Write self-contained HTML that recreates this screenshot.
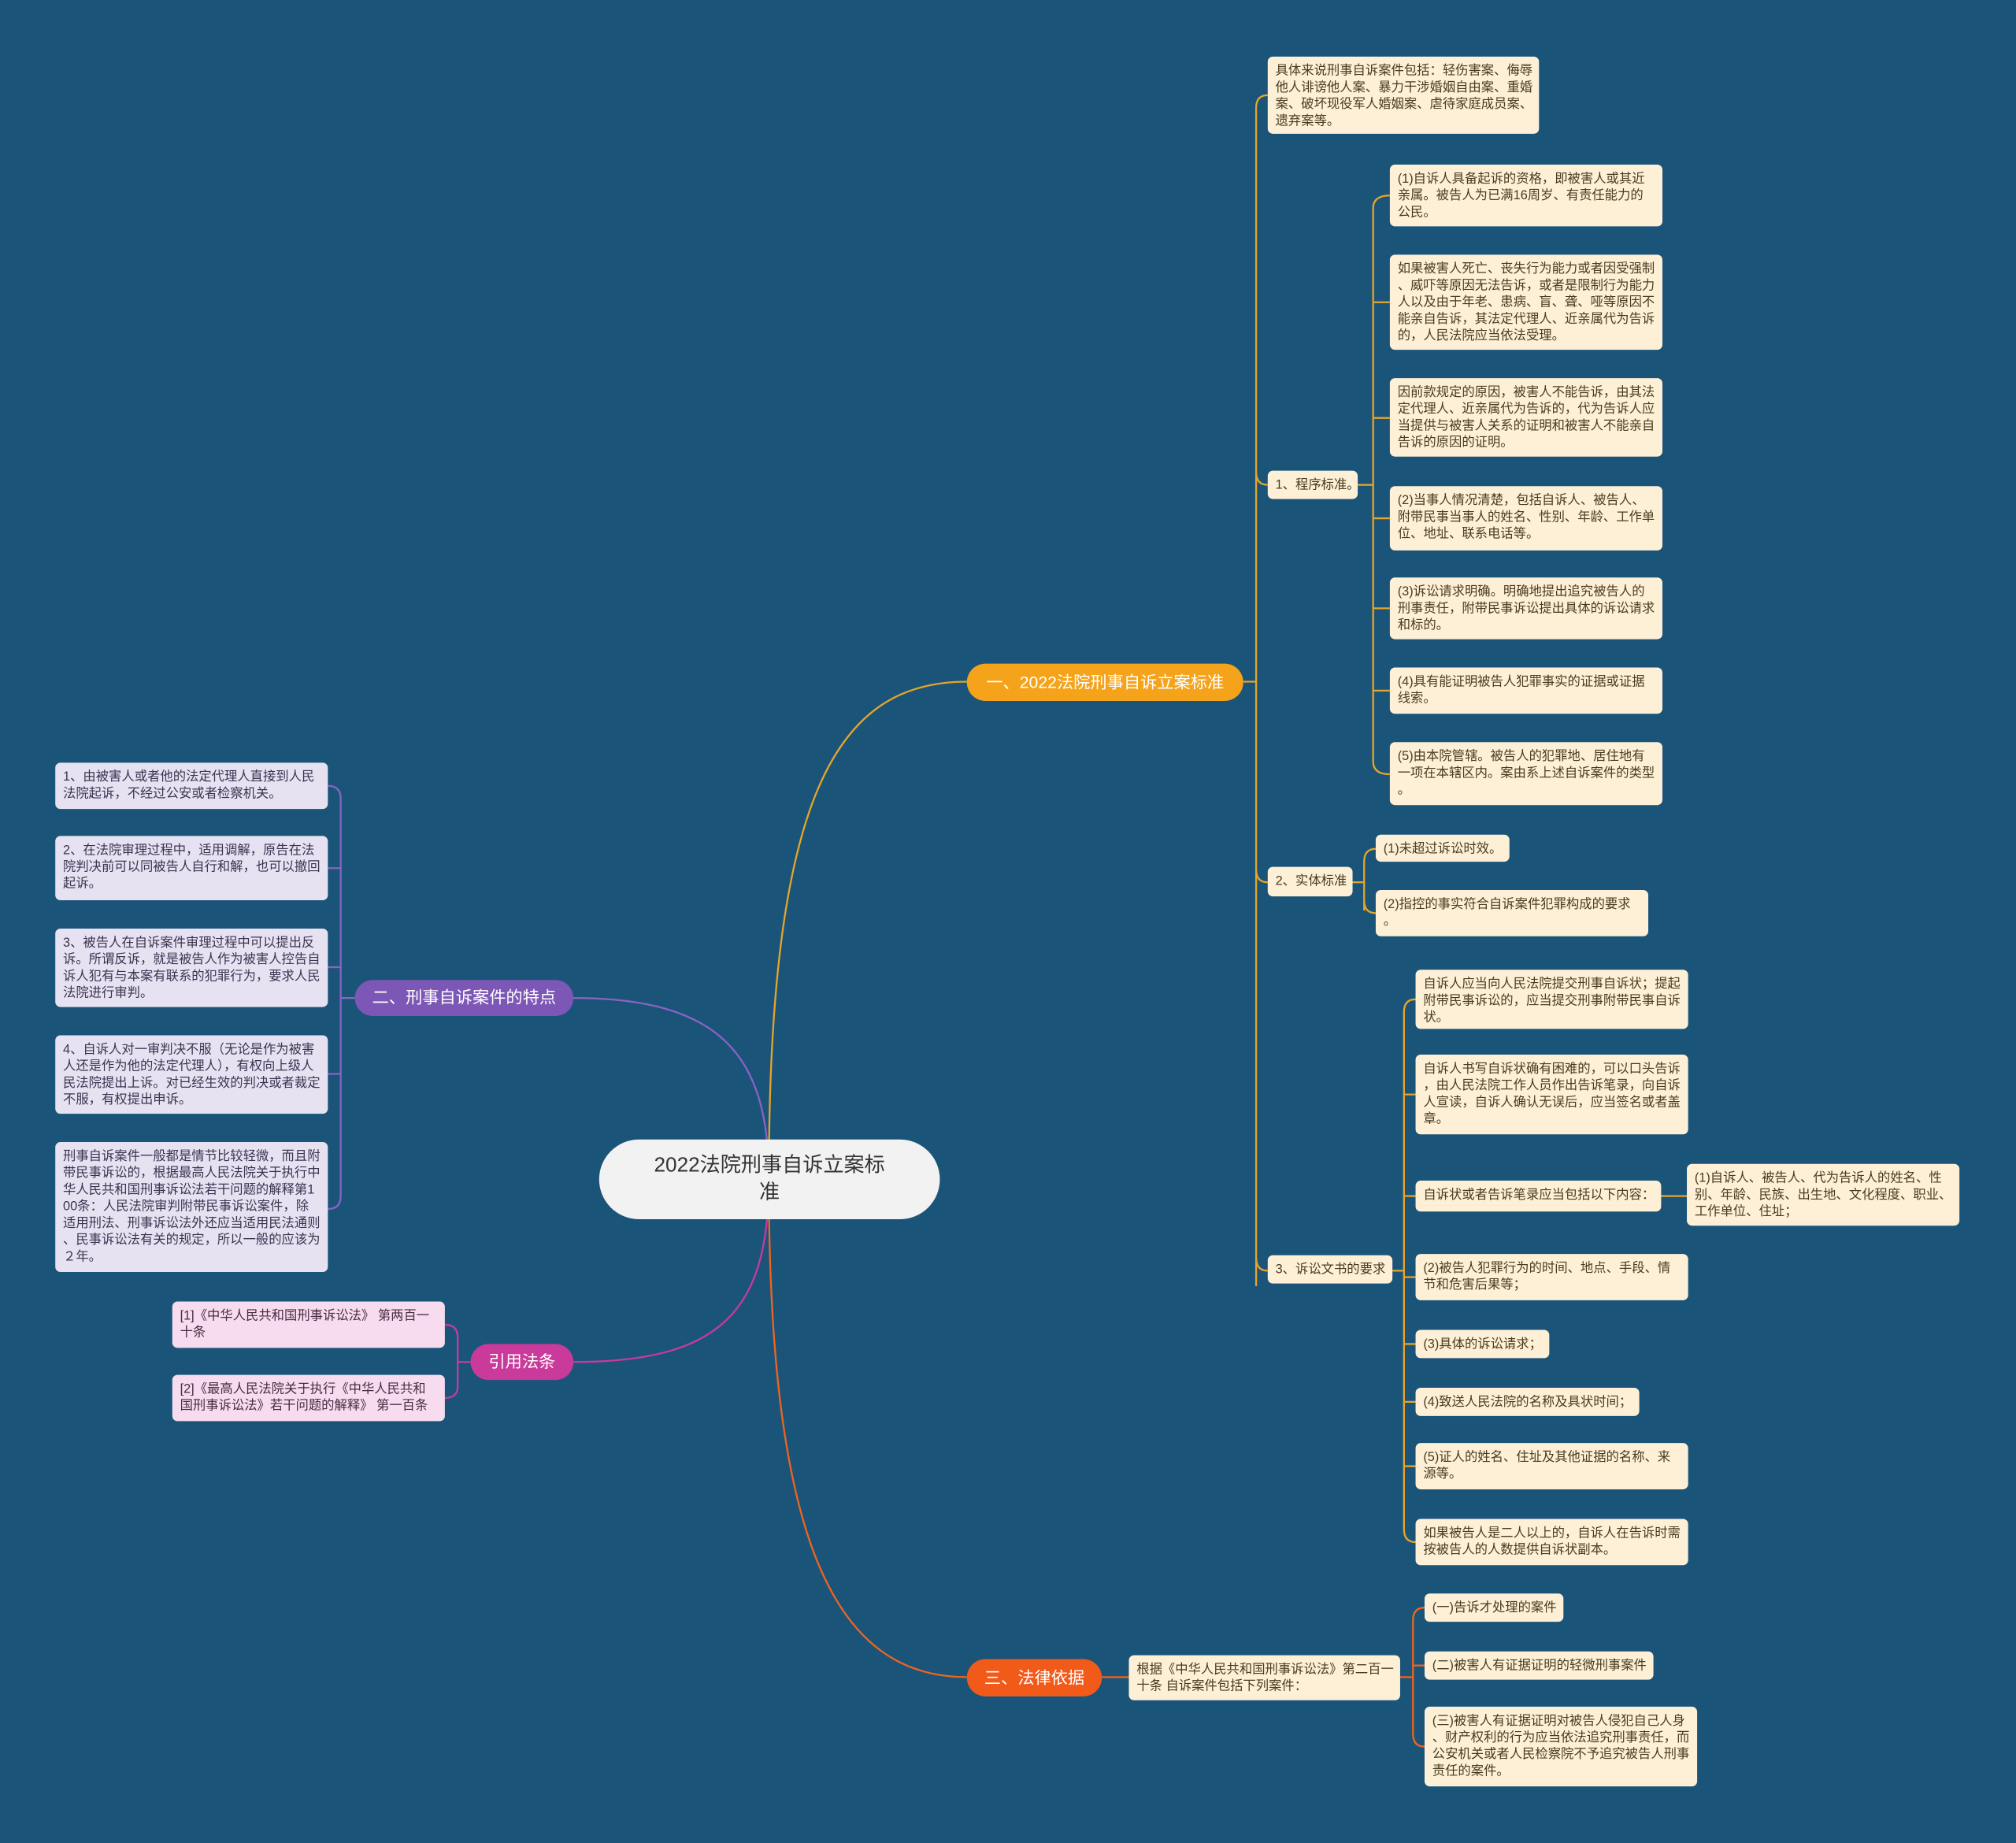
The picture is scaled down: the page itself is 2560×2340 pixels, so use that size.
<!DOCTYPE html>
<html><head><meta charset="utf-8">
<style>
html,body{margin:0;padding:0;background:#1b5479;}
body{width:2560px;height:2340px;overflow:hidden;position:relative;}
#s{position:absolute;left:0;top:0;width:1568px;height:1433px;transform:scale(1.63265,1.63294);transform-origin:0 0;font-family:"Liberation Sans","Noto Sans CJK SC",sans-serif;}
.b{position:absolute;box-sizing:border-box;background:#fdf0d6;color:#4a3a20;font-size:10px;line-height:13px;padding:5px 6px 3px 6px;border-radius:4px;white-space:nowrap;}
.p{background:#e7e2f2;color:#3b3350;}
.k{background:#f6dcee;color:#4a2a40;}
.m{position:absolute;box-sizing:border-box;border-radius:15px;color:#fff;font-size:13px;text-align:center;line-height:29px;white-space:nowrap;}
svg{position:absolute;left:0;top:0;}
</style></head><body><div id="s">
<svg width="1568" height="1433" fill="none" stroke-width="1.4">
<g stroke="#e6a52a">
<path d="M598,917 C598,620 650,530 752,530"/>
<path d="M967,530 H977 M977,84 V1000"/>
<path d="M977,84 Q977,74 986,74 M977,367 Q977,377 986,377 M977,676 Q977,686 986,686 M977,978 Q977,988 986,988"/>
<path d="M1056,377 H1068 M1068,162 V592 M1068,162 Q1068,152 1081,152 M1068,235 H1081 M1068,325 H1081 M1068,403 H1081 M1068,473 H1081 M1068,537 H1081 M1068,592 Q1068,602 1081,602"/>
<path d="M1052,686 H1061 M1061,670 V708 M1061,670 Q1061,660 1070,660 M1061,700 Q1061,710 1070,710"/>
<path d="M1083,988 H1092 M1092,787 V1189 M1092,787 Q1092,777 1101,777 M1092,851 H1101 M1092,930 H1101 M1092,993 H1101 M1092,1045 H1101 M1092,1090 H1101 M1092,1140 H1101 M1092,1189 Q1092,1199 1101,1199"/>
<path d="M1292,930 H1312"/>
</g>
<g stroke="#f0641e">
<path d="M598,917 C598,1200 650,1304 752,1304"/>
<path d="M857,1304 H878 M1089,1304 H1099 M1099,1260 V1348 M1099,1260 Q1099,1250 1108,1250 M1099,1295 H1108 M1099,1348 Q1099,1358 1108,1358"/>
</g>
<g stroke="#8a63c4">
<path d="M598,917 C598,820 560,776 446,776"/>
<path d="M276,776 H265 M265,621 V930 M265,621 Q265,611 255,611 M265,675 H255 M265,752 H255 M265,835 H255 M265,930 Q265,940 255,940"/>
</g>
<g stroke="#c93a9a">
<path d="M598,917 C598,1020 560,1059 446,1059"/>
<path d="M366,1059 H356 M356,1040 V1078 M356,1040 Q356,1030 346,1030 M356,1078 Q356,1087 346,1087"/>
</g>
</svg>

<div style="position:absolute;left:466px;top:886px;width:265px;height:62px;border-radius:31px;background:#f2f2f2;color:#333;font-size:16px;line-height:21px;text-align:center;padding-top:10px;box-sizing:border-box;">2022法院刑事自诉立案标<br>准</div>

<div class="m" style="left:752px;top:516px;width:215px;height:29px;background:#f5a31a;">一、2022法院刑事自诉立案标准</div>
<div class="m" style="left:276px;top:762px;width:170px;height:28px;background:#7d57b6;line-height:28px;">二、刑事自诉案件的特点</div>
<div class="m" style="left:366px;top:1045px;width:80px;height:28px;background:#c93a9a;line-height:28px;">引用法条</div>
<div class="m" style="left:752px;top:1290px;width:105px;height:29px;background:#f25a1a;">三、法律依据</div>

<div class="b" style="left:986px;top:44px;width:211px;height:60px;">具体来说刑事自诉案件包括：轻伤害案、侮辱<br>他人诽谤他人案、暴力干涉婚姻自由案、重婚<br>案、破坏现役军人婚姻案、虐待家庭成员案、<br>遗弃案等。</div>
<div class="b" style="left:986px;top:366px;width:70px;height:22px;">1、程序标准。</div>
<div class="b" style="left:1081px;top:128px;width:212px;height:48px;">(1)自诉人具备起诉的资格，即被害人或其近<br>亲属。被告人为已满16周岁、有责任能力的<br>公民。</div>
<div class="b" style="left:1081px;top:198px;width:212px;height:74px;">如果被害人死亡、丧失行为能力或者因受强制<br>、威吓等原因无法告诉，或者是限制行为能力<br>人以及由于年老、患病、盲、聋、哑等原因不<br>能亲自告诉，其法定代理人、近亲属代为告诉<br>的，人民法院应当依法受理。</div>
<div class="b" style="left:1081px;top:294px;width:212px;height:61px;">因前款规定的原因，被害人不能告诉，由其法<br>定代理人、近亲属代为告诉的，代为告诉人应<br>当提供与被害人关系的证明和被害人不能亲自<br>告诉的原因的证明。</div>
<div class="b" style="left:1081px;top:378px;width:212px;height:50px;">(2)当事人情况清楚，包括自诉人、被告人、<br>附带民事当事人的姓名、性别、年龄、工作单<br>位、地址、联系电话等。</div>
<div class="b" style="left:1081px;top:449px;width:212px;height:48px;">(3)诉讼请求明确。明确地提出追究被告人的<br>刑事责任，附带民事诉讼提出具体的诉讼请求<br>和标的。</div>
<div class="b" style="left:1081px;top:519px;width:212px;height:36px;">(4)具有能证明被告人犯罪事实的证据或证据<br>线索。</div>
<div class="b" style="left:1081px;top:577px;width:212px;height:49px;">(5)由本院管辖。被告人的犯罪地、居住地有<br>一项在本辖区内。案由系上述自诉案件的类型<br>。</div>

<div class="b" style="left:986px;top:674px;width:66px;height:23px;">2、实体标准</div>
<div class="b" style="left:1070px;top:649px;width:104px;height:21px;">(1)未超过诉讼时效。</div>
<div class="b" style="left:1070px;top:692px;width:212px;height:36px;">(2)指控的事实符合自诉案件犯罪构成的要求<br>。</div>

<div class="b" style="left:986px;top:976px;width:97px;height:22px;">3、诉讼文书的要求</div>
<div class="b" style="left:1101px;top:754px;width:212px;height:46px;">自诉人应当向人民法院提交刑事自诉状；提起<br>附带民事诉讼的，应当提交刑事附带民事自诉<br>状。</div>
<div class="b" style="left:1101px;top:820px;width:212px;height:62px;">自诉人书写自诉状确有困难的，可以口头告诉<br>，由人民法院工作人员作出告诉笔录，向自诉<br>人宣读，自诉人确认无误后，应当签名或者盖<br>章。</div>
<div class="b" style="left:1101px;top:918px;width:191px;height:24px;">自诉状或者告诉笔录应当包括以下内容：</div>
<div class="b" style="left:1312px;top:905px;width:212px;height:48px;">(1)自诉人、被告人、代为告诉人的姓名、性<br>别、年龄、民族、出生地、文化程度、职业、<br>工作单位、住址；</div>
<div class="b" style="left:1101px;top:975px;width:212px;height:36px;">(2)被告人犯罪行为的时间、地点、手段、情<br>节和危害后果等；</div>
<div class="b" style="left:1101px;top:1034px;width:104px;height:22px;">(3)具体的诉讼请求；</div>
<div class="b" style="left:1101px;top:1079px;width:174px;height:22px;">(4)致送人民法院的名称及具状时间；</div>
<div class="b" style="left:1101px;top:1122px;width:212px;height:36px;">(5)证人的姓名、住址及其他证据的名称、来<br>源等。</div>
<div class="b" style="left:1101px;top:1181px;width:212px;height:36px;">如果被告人是二人以上的，自诉人在告诉时需<br>按被告人的人数提供自诉状副本。</div>

<div class="b" style="left:878px;top:1287px;width:211px;height:35px;">根据《中华人民共和国刑事诉讼法》第二百一<br>十条 自诉案件包括下列案件：</div>
<div class="b" style="left:1108px;top:1239px;width:108px;height:22px;">(一)告诉才处理的案件</div>
<div class="b" style="left:1108px;top:1284px;width:178px;height:22px;">(二)被害人有证据证明的轻微刑事案件</div>
<div class="b" style="left:1108px;top:1327px;width:212px;height:62px;">(三)被害人有证据证明对被告人侵犯自己人身<br>、财产权利的行为应当依法追究刑事责任，而<br>公安机关或者人民检察院不予追究被告人刑事<br>责任的案件。</div>

<div class="b p" style="left:43px;top:593px;width:212px;height:36px;">1、由被害人或者他的法定代理人直接到人民<br>法院起诉，不经过公安或者检察机关。</div>
<div class="b p" style="left:43px;top:650px;width:212px;height:50px;">2、在法院审理过程中，适用调解，原告在法<br>院判决前可以同被告人自行和解，也可以撤回<br>起诉。</div>
<div class="b p" style="left:43px;top:722px;width:212px;height:61px;">3、被告人在自诉案件审理过程中可以提出反<br>诉。所谓反诉，就是被告人作为被害人控告自<br>诉人犯有与本案有联系的犯罪行为，要求人民<br>法院进行审判。</div>
<div class="b p" style="left:43px;top:805px;width:212px;height:61px;">4、自诉人对一审判决不服（无论是作为被害<br>人还是作为他的法定代理人），有权向上级人<br>民法院提出上诉。对已经生效的判决或者裁定<br>不服，有权提出申诉。</div>
<div class="b p" style="left:43px;top:888px;width:212px;height:101px;">刑事自诉案件一般都是情节比较轻微，而且附<br>带民事诉讼的，根据最高人民法院关于执行中<br>华人民共和国刑事诉讼法若干问题的解释第1<br>00条：人民法院审判附带民事诉讼案件，除<br>适用刑法、刑事诉讼法外还应当适用民法通则<br>、民事诉讼法有关的规定，所以一般的应该为<br>２年。</div>
<div class="b k" style="left:134px;top:1012px;width:212px;height:36px;">[1]《中华人民共和国刑事诉讼法》 第两百一<br>十条</div>
<div class="b k" style="left:134px;top:1069px;width:212px;height:36px;">[2]《最高人民法院关于执行《中华人民共和<br>国刑事诉讼法》若干问题的解释》 第一百条</div>
</div></body></html>
